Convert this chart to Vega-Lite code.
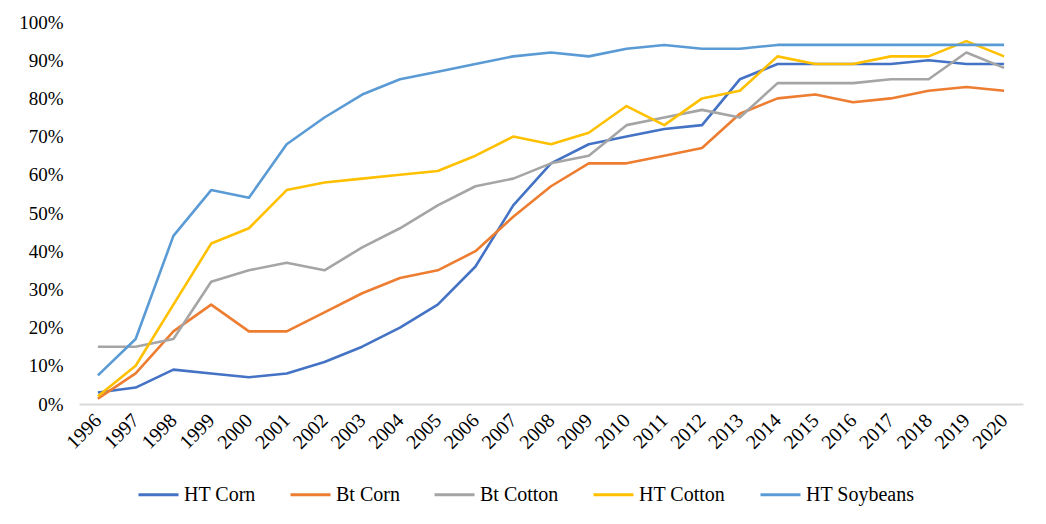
{
  "$schema": "https://vega.github.io/schema/vega-lite/v6.json",
  "autosize": {"type": "none"},
  "padding": {"left": 79, "top": 22, "right": 23, "bottom": 120},
  "width": 944,
  "height": 382,
  "background": "white",
  "config": {
    "view": {"stroke": null},
    "font": "Liberation Serif",
    "axis": {"labelFont": "Liberation Serif"},
    "legend": {"labelFont": "Liberation Serif"}
  },
  "data": {
    "values": [
      {"year": "1996", "HT Corn": 3, "Bt Corn": 1.4, "Bt Cotton": 15, "HT Cotton": 2, "HT Soybeans": 7.5},
      {"year": "1997", "HT Corn": 4.3, "Bt Corn": 8, "Bt Cotton": 15, "HT Cotton": 10, "HT Soybeans": 17},
      {"year": "1998", "HT Corn": 9, "Bt Corn": 19, "Bt Cotton": 17, "HT Cotton": 26, "HT Soybeans": 44},
      {"year": "1999", "HT Corn": 8, "Bt Corn": 26, "Bt Cotton": 32, "HT Cotton": 42, "HT Soybeans": 56},
      {"year": "2000", "HT Corn": 7, "Bt Corn": 19, "Bt Cotton": 35, "HT Cotton": 46, "HT Soybeans": 54},
      {"year": "2001", "HT Corn": 8, "Bt Corn": 19, "Bt Cotton": 37, "HT Cotton": 56, "HT Soybeans": 68},
      {"year": "2002", "HT Corn": 11, "Bt Corn": 24, "Bt Cotton": 35, "HT Cotton": 58, "HT Soybeans": 75},
      {"year": "2003", "HT Corn": 15, "Bt Corn": 29, "Bt Cotton": 41, "HT Cotton": 59, "HT Soybeans": 81},
      {"year": "2004", "HT Corn": 20, "Bt Corn": 33, "Bt Cotton": 46, "HT Cotton": 60, "HT Soybeans": 85},
      {"year": "2005", "HT Corn": 26, "Bt Corn": 35, "Bt Cotton": 52, "HT Cotton": 61, "HT Soybeans": 87},
      {"year": "2006", "HT Corn": 36, "Bt Corn": 40, "Bt Cotton": 57, "HT Cotton": 65, "HT Soybeans": 89},
      {"year": "2007", "HT Corn": 52, "Bt Corn": 49, "Bt Cotton": 59, "HT Cotton": 70, "HT Soybeans": 91},
      {"year": "2008", "HT Corn": 63, "Bt Corn": 57, "Bt Cotton": 63, "HT Cotton": 68, "HT Soybeans": 92},
      {"year": "2009", "HT Corn": 68, "Bt Corn": 63, "Bt Cotton": 65, "HT Cotton": 71, "HT Soybeans": 91},
      {"year": "2010", "HT Corn": 70, "Bt Corn": 63, "Bt Cotton": 73, "HT Cotton": 78, "HT Soybeans": 93},
      {"year": "2011", "HT Corn": 72, "Bt Corn": 65, "Bt Cotton": 75, "HT Cotton": 73, "HT Soybeans": 94},
      {"year": "2012", "HT Corn": 73, "Bt Corn": 67, "Bt Cotton": 77, "HT Cotton": 80, "HT Soybeans": 93},
      {"year": "2013", "HT Corn": 85, "Bt Corn": 76, "Bt Cotton": 75, "HT Cotton": 82, "HT Soybeans": 93},
      {"year": "2014", "HT Corn": 89, "Bt Corn": 80, "Bt Cotton": 84, "HT Cotton": 91, "HT Soybeans": 94},
      {"year": "2015", "HT Corn": 89, "Bt Corn": 81, "Bt Cotton": 84, "HT Cotton": 89, "HT Soybeans": 94},
      {"year": "2016", "HT Corn": 89, "Bt Corn": 79, "Bt Cotton": 84, "HT Cotton": 89, "HT Soybeans": 94},
      {"year": "2017", "HT Corn": 89, "Bt Corn": 80, "Bt Cotton": 85, "HT Cotton": 91, "HT Soybeans": 94},
      {"year": "2018", "HT Corn": 90, "Bt Corn": 82, "Bt Cotton": 85, "HT Cotton": 91, "HT Soybeans": 94},
      {"year": "2019", "HT Corn": 89, "Bt Corn": 83, "Bt Cotton": 92, "HT Cotton": 95, "HT Soybeans": 94},
      {"year": "2020", "HT Corn": 89, "Bt Corn": 82, "Bt Cotton": 88, "HT Cotton": 91, "HT Soybeans": 94}
    ]
  },
  "transform": [
    {"fold": ["HT Corn", "Bt Corn", "Bt Cotton", "HT Cotton", "HT Soybeans"], "as": ["crop", "share"]}
  ],
  "mark": {"type": "line", "strokeWidth": 2.6, "strokeJoin": "round"},
  "encoding": {
    "x": {
      "field": "year",
      "type": "ordinal",
      "scale": {"type": "point", "padding": 0.5},
      "axis": {
        "title": null,
        "labelAngle": -45,
        "labelAlign": "right",
        "labelBaseline": "middle",
        "labelFontSize": 20,
        "labelColor": "#000000",
        "labelPadding": 13,
        "ticks": false,
        "domainColor": "#D9D9D9",
        "domainWidth": 2,
        "grid": false
      }
    },
    "y": {
      "field": "share",
      "type": "quantitative",
      "scale": {"domain": [0, 100], "nice": false},
      "axis": {
        "title": null,
        "values": [0, 10, 20, 30, 40, 50, 60, 70, 80, 90, 100],
        "labelExpr": "datum.value + '%'",
        "labelFontSize": 19,
        "labelColor": "#000000",
        "labelPadding": 16,
        "ticks": false,
        "domain": false,
        "grid": false
      }
    },
    "color": {
      "field": "crop",
      "type": "nominal",
      "scale": {
        "domain": ["HT Corn", "Bt Corn", "Bt Cotton", "HT Cotton", "HT Soybeans"],
        "range": ["#4472C4", "#ED7D31", "#A5A5A5", "#FFC000", "#5B9BD5"]
      },
      "legend": {
        "title": null,
        "orient": "none",
        "direction": "horizontal",
        "legendX": 58,
        "legendY": 451,
        "symbolType": "stroke",
        "symbolSize": 1600,
        "symbolStrokeWidth": 3,
        "labelFontSize": 20,
        "labelColor": "#000000",
        "labelOffset": 4,
        "columnPadding": 28
      }
    },
    "order": {"field": "year"}
  }
}
